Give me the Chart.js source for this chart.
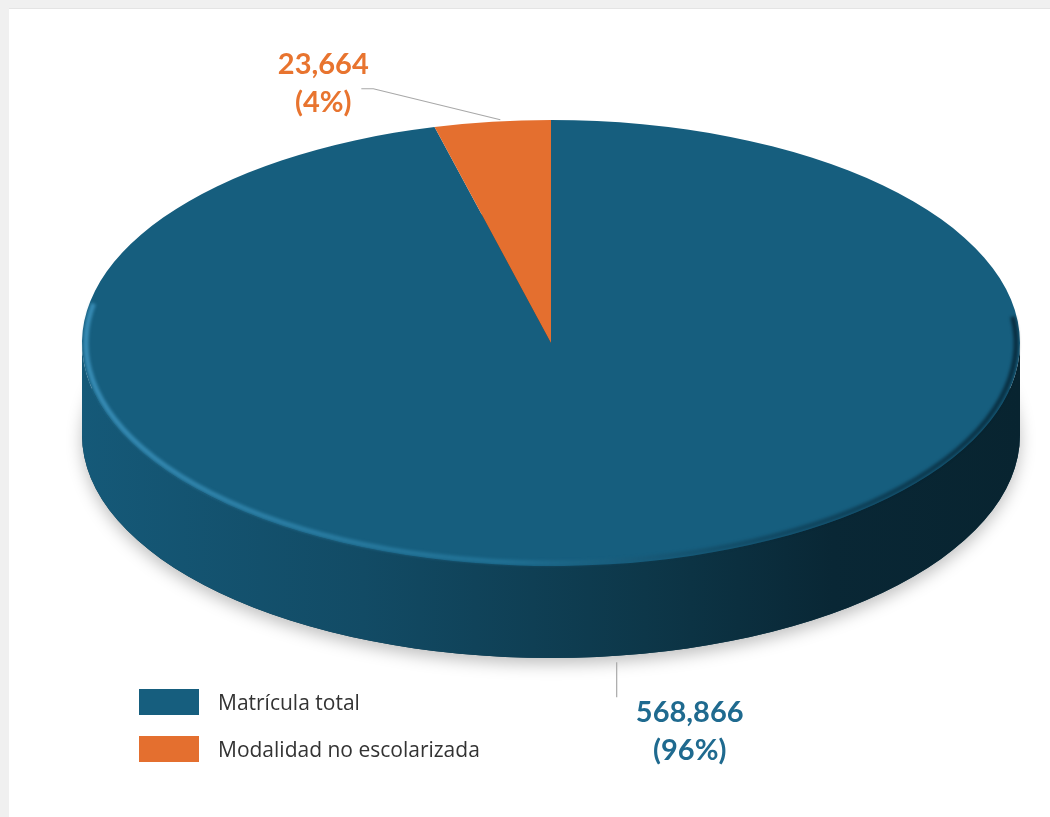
<!DOCTYPE html>
<html>
<head>
<meta charset="utf-8">
<title>Matrícula</title>
<script src="https://cdn.jsdelivr.net/npm/chart.js@4/dist/chart.umd.min.js"></script>
<style>
  body { margin: 0; background: #f0f0f0; font-family: Lato, "Open Sans", sans-serif; overflow: hidden; }
  #panel { position: absolute; left: 9px; top: 9px; width: 1041px; height: 808px; background: #fff; box-shadow: 0 -1px 0 #e4e4e4; }
  #pie { position: absolute; left: 0; top: 0; }
  #legend { position: absolute; left: 139px; top: 678px; }
  .item { display: flex; align-items: center; height: 47px; }
  .box { width: 60px; height: 26px; margin-right: 19px; }
  .txt { font-family: "Open Sans", sans-serif; font-size: 21px; color: #333; }
</style>
</head>
<body>
<div id="panel"></div>
<canvas id="pie" width="1050" height="817"></canvas>
<div id="legend"></div>

<script>
var labels = ['Matrícula total', 'Modalidad no escolarizada'];
var values = [568866, 23664];
var colors = ['#165E7E', '#E46F2F'];
var labelColors = ['#1F6A8F', '#E8742F'];

var depth = 92;           // thickness of the disc
var stretch = 469 / 223;  // flattens the circle into the tilted ellipse

function shade(hex, f) {
  var n = parseInt(hex.slice(1), 16);
  var r = Math.round(((n >> 16) & 255) * f), g = Math.round(((n >> 8) & 255) * f), b = Math.round((n & 255) * f);
  return 'rgb(' + r + ',' + g + ',' + b + ')';
}

// front-facing parts of an arc (angles between 0 and PI, canvas orientation)
function frontParts(s, e) {
  var out = [];
  for (var k = -1; k <= 1; k++) {
    var lo = Math.max(s, k * 2 * Math.PI), hi = Math.min(e, k * 2 * Math.PI + Math.PI);
    if (hi > lo) out.push([lo, hi]);
  }
  return out;
}

var disc3d = {
  id: 'disc3d',
  beforeDatasetsDraw: function(chart) {
    var ctx = chart.ctx;
    var arcs = chart.getDatasetMeta(0).data;
    var cx = arcs[0].x, cy = arcs[0].y, ry = arcs[0].outerRadius, rx = ry * stretch;

    // soft shadow under the disc
    ctx.save();
    ctx.shadowColor = 'rgba(0,0,0,0.25)';
    ctx.shadowBlur = 16;
    ctx.shadowOffsetY = 6;
    ctx.fillStyle = shade(colors[0], 0.6);
    ctx.beginPath();
    ctx.ellipse(cx, cy + depth, rx, ry, 0, 0, Math.PI * 2);
    ctx.fill();
    ctx.restore();

    // side walls
    arcs.forEach(function(el, i) {
      var g = ctx.createLinearGradient(cx - rx, 0, cx + rx, 0);
      g.addColorStop(0, shade(colors[i], 0.95));
      g.addColorStop(0.3, shade(colors[i], 0.8));
      g.addColorStop(0.6, shade(colors[i], 0.58));
      g.addColorStop(0.8, shade(colors[i], 0.42));
      g.addColorStop(1, shade(colors[i], 0.38));
      frontParts(el.startAngle, el.endAngle).forEach(function(p) {
        ctx.beginPath();
        ctx.ellipse(cx, cy, rx, ry, 0, p[0], p[1]);
        ctx.ellipse(cx, cy + depth, rx, ry, 0, p[1], p[0], true);
        ctx.closePath();
        ctx.fillStyle = g;
        ctx.fill();
      });
    });

    ctx.save();
    ctx.translate(cx, 0);
    ctx.scale(stretch, 1);
    ctx.translate(-cx, 0);
  },
  afterDatasetsDraw: function(chart) {
    var ctx = chart.ctx;
    ctx.restore();
    var arcs = chart.getDatasetMeta(0).data;
    var cx = arcs[0].x, cy = arcs[0].y, ry = arcs[0].outerRadius, rx = ry * stretch;

    // bevel along the front rim of the top face
    ctx.save();
    var g = ctx.createLinearGradient(cx - rx, 0, cx + rx, 0);
    g.addColorStop(0, 'rgba(70,160,205,0.7)');
    g.addColorStop(0.45, 'rgba(45,135,175,0.45)');
    g.addColorStop(0.75, 'rgba(5,30,45,0.35)');
    g.addColorStop(1, 'rgba(0,15,25,0.6)');
    ctx.strokeStyle = g;
    ctx.lineWidth = 5;
    ctx.filter = 'blur(1.5px)';
    ctx.beginPath();
    ctx.ellipse(cx, cy, rx - 4, ry - 3, 0, -0.12, Math.PI + 0.18);
    ctx.stroke();
    ctx.restore();

    // value labels with leader lines
    var total = values.reduce(function(a, b) { return a + b; }, 0);
    ctx.save();
    ctx.font = 'bold 29px Lato, "Open Sans", sans-serif';
    ctx.textAlign = 'center';
    ctx.textBaseline = 'alphabetic';
    ctx.strokeStyle = '#a8a8a8';
    ctx.lineWidth = 1.2;
    arcs.forEach(function(el, i) {
      var a = (el.startAngle + el.endAngle) / 2;
      var pct = '(' + Math.round(values[i] / total * 100) + '%)';
      var num = values[i].toLocaleString('en-US');
      var tx, ty;
      if (Math.sin(a) < 0) {
        var ax = cx + rx * Math.cos(a) + 8, ay = cy + ry * Math.sin(a) - 2;
        var ex = ax - 127, ey = ay - 31;
        ctx.beginPath();
        ctx.moveTo(ax, ay);
        ctx.lineTo(ex, ey);
        ctx.lineTo(ex - 12, ey);
        ctx.stroke();
        tx = ex - 50; ty = ey - 15;
      } else {
        var bx = cx + rx * Math.cos(a) + 7, by = cy + depth + ry * Math.sin(a) + 6;
        ctx.beginPath();
        ctx.moveTo(bx, by);
        ctx.lineTo(bx, by + 35);
        ctx.stroke();
        tx = bx + 73; ty = by + 60;
      }
      ctx.fillStyle = labelColors[i];
      ctx.fillText(num, tx, ty);
      ctx.fillText(pct, tx, ty + 38);
    });
    ctx.restore();
  }
};

new Chart(document.getElementById('pie'), {
  type: 'pie',
  data: {
    labels: labels,
    datasets: [{
      data: values,
      backgroundColor: colors,
      borderWidth: 0,
      hoverOffset: 0,
      clip: false
    }]
  },
  options: {
    responsive: false,
    animation: false,
    events: [],
    layout: { padding: { left: 328, right: 276, top: 120, bottom: 251 } },
    plugins: { legend: { display: false }, tooltip: { enabled: false } }
  },
  plugins: [disc3d]
});

var legend = document.getElementById('legend');
labels.forEach(function(l, i) {
  var row = document.createElement('div');
  row.className = 'item';
  row.innerHTML = '<div class="box" style="background:' + colors[i] + '"></div><span class="txt">' + l + '</span>';
  legend.appendChild(row);
});
</script>
</body>
</html>
